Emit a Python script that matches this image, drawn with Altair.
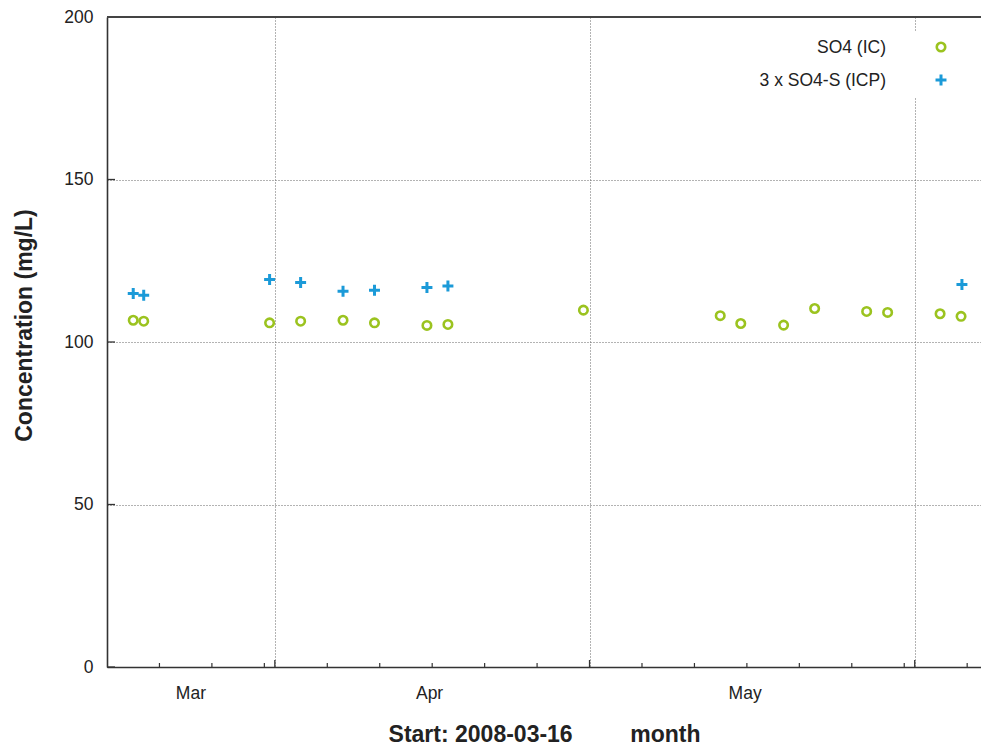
import altair as alt
import pandas as pd

# SO4 measured by ion chromatography
ic_dates = [
    "2008-03-18T12:00", "2008-03-19T12:00", "2008-03-31T12:00", "2008-04-03T11:00",
    "2008-04-07T12:00", "2008-04-10T12:00", "2008-04-15T12:00", "2008-04-17T12:00",
    "2008-04-30T10:00", "2008-05-13T11:00", "2008-05-15T10:00", "2008-05-19T12:00",
    "2008-05-22T11:00", "2008-05-27T10:00", "2008-05-29T10:00", "2008-06-03T10:00",
    "2008-06-05T10:00",
]
ic_values = [106.7, 106.4, 105.9, 106.4, 106.7, 105.9, 105.1, 105.4, 109.8,
             108.1, 105.7, 105.2, 110.3, 109.4, 109.1, 108.7, 107.9]

# 3 x SO4-S measured by ICP
icp_dates = [
    "2008-03-18T12:00", "2008-03-19T12:00", "2008-03-31T12:00", "2008-04-03T11:00",
    "2008-04-07T12:00", "2008-04-10T12:00", "2008-04-15T12:00", "2008-04-17T12:00",
    "2008-06-05T12:00",
]
icp_values = [114.9, 114.4, 119.2, 118.3, 115.6, 115.9, 116.8, 117.2, 117.7]

month_names = ["Mar", "Apr", "May"]
month_centers = ["2008-03-24T00:00", "2008-04-15T18:00", "2008-05-15T20:00"]
month_starts = ["2008-04-01T00:00", "2008-05-01T00:00", "2008-06-01T00:00"]
minor_ticks = [
    "2008-03-21T00:00", "2008-03-26T00:00", "2008-03-31T00:00", "2008-04-06T00:00",
    "2008-04-11T00:00", "2008-04-16T00:00", "2008-04-21T00:00", "2008-04-26T00:00",
    "2008-05-06T00:00", "2008-05-11T00:00", "2008-05-16T00:00", "2008-05-21T00:00",
    "2008-05-26T00:00", "2008-05-31T00:00", "2008-06-06T00:00",
]
y_ticks = [0, 50, 100, 150, 200]

W, H = 874, 650
GREEN = "#9bc31f"
BLUE = "#1b9ad8"
FONT = "Liberation Sans"
PLUS = "M-1,0L1,0M0,-1L0,1"

x_scale = alt.Scale(domain=[alt.DateTime(year=2008, month=3, date=16),
                            alt.DateTime(year=2008, month=6, date=7, hours=7, minutes=38)])
y_scale = alt.Scale(domain=[0, 200], nice=False)

ic = pd.DataFrame({"date": ic_dates, "value": ic_values})
icp = pd.DataFrame({"date": icp_dates, "value": icp_values})
months = pd.DataFrame({"date": month_centers, "name": month_names})
majors = pd.DataFrame({"date": month_starts})
minors = pd.DataFrame({"date": minor_ticks})
yt = pd.DataFrame({"value": y_ticks})
one = pd.DataFrame({"a": [0]})

x_axis = alt.Axis(
    values=[alt.DateTime(year=2008, month=m, date=1) for m in (4, 5, 6)],
    labels=False, ticks=False, grid=True,
    title="Start: 2008-03-16" + "\u00a0" * 9 + "month",
    titleFont=FONT, titleFontSize=23, titleFontWeight="bold", titleColor="#222",
    titleY=74, titleBaseline="alphabetic",
)
y_axis = alt.Axis(
    values=y_ticks, ticks=False, grid=True,
    labelFont=FONT, labelFontSize=17.5, labelColor="#222", labelPadding=14,
    title="Concentration (mg/L)",
    titleFont=FONT, titleFontSize=23, titleFontWeight="bold", titleColor="#222",
    titleX=-76, titleY=308, titleBaseline="alphabetic", titleAlign="center",
)

# every layer that uses the shared scales gets the same axis spec so they merge
X = alt.X("date:T", scale=x_scale, axis=x_axis)
Y = alt.Y("value:Q", scale=y_scale, axis=y_axis)

circles = alt.Chart(ic).mark_point(
    shape="circle", filled=False, color=GREEN, size=72, strokeWidth=2.6, opacity=1
).encode(x=X, y=Y)

crosses = alt.Chart(icp).mark_point(
    shape=PLUS, filled=False, color=BLUE, size=120, strokeWidth=3, opacity=1
).encode(x=X, y=Y)

month_labels = alt.Chart(months).mark_text(
    font=FONT, fontSize=17.5, color="#222", baseline="alphabetic", align="center"
).encode(x=X, y=alt.value(H + 32), text="name:N")

major_ticks = alt.Chart(majors).mark_rule(color="#333", strokeWidth=1.3).encode(
    x=X, y=alt.value(H), y2=alt.value(H - 7)
)

minor_marks = alt.Chart(minors).mark_rule(color="#333", strokeWidth=1.2).encode(
    x=X, y=alt.value(H), y2=alt.value(H - 4)
)

y_marks = alt.Chart(yt).mark_rule(color="#333", strokeWidth=1.3).encode(
    y=Y, x=alt.value(0), x2=alt.value(8)
)

top_border = alt.Chart(one).mark_rule(color="#444", strokeWidth=1.8).encode(
    x=alt.value(0), x2=alt.value(W), y=alt.value(0)
)

legend_box = alt.Chart(one).mark_rect(color="white").encode(
    x=alt.value(613), x2=alt.value(858), y=alt.value(15), y2=alt.value(80)
)


def legend_label(label, ypos):
    return alt.Chart(one).mark_text(
        font=FONT, fontSize=17.5, color="#222", align="right", baseline="middle",
        text=label,
    ).encode(x=alt.value(779), y=alt.value(ypos))


legend_circle = alt.Chart(one).mark_point(
    shape="circle", filled=False, color=GREEN, size=72, strokeWidth=2.6, opacity=1
).encode(x=alt.value(834), y=alt.value(30))

legend_cross = alt.Chart(one).mark_point(
    shape=PLUS, filled=False, color=BLUE, size=120, strokeWidth=3, opacity=1
).encode(x=alt.value(834), y=alt.value(63))

chart = alt.layer(
    circles, crosses, month_labels, major_ticks, minor_marks, y_marks, top_border,
    legend_box, legend_label("SO4 (IC)", 31), legend_label("3 x SO4-S (ICP)", 64),
    legend_circle, legend_cross,
).properties(
    width=W, height=H,
    autosize=alt.AutoSizeParams(type="none"),
    padding={"left": 99, "top": 9, "right": 0, "bottom": 79},
).configure_view(
    stroke=None
).configure_axis(
    domainColor="#333", domainWidth=1.6,
    gridColor="#666", gridDash=[1, 2], gridWidth=1, gridOpacity=1,
)

chart.save("out.html", embed_options={"renderer": "svg", "actions": False})
